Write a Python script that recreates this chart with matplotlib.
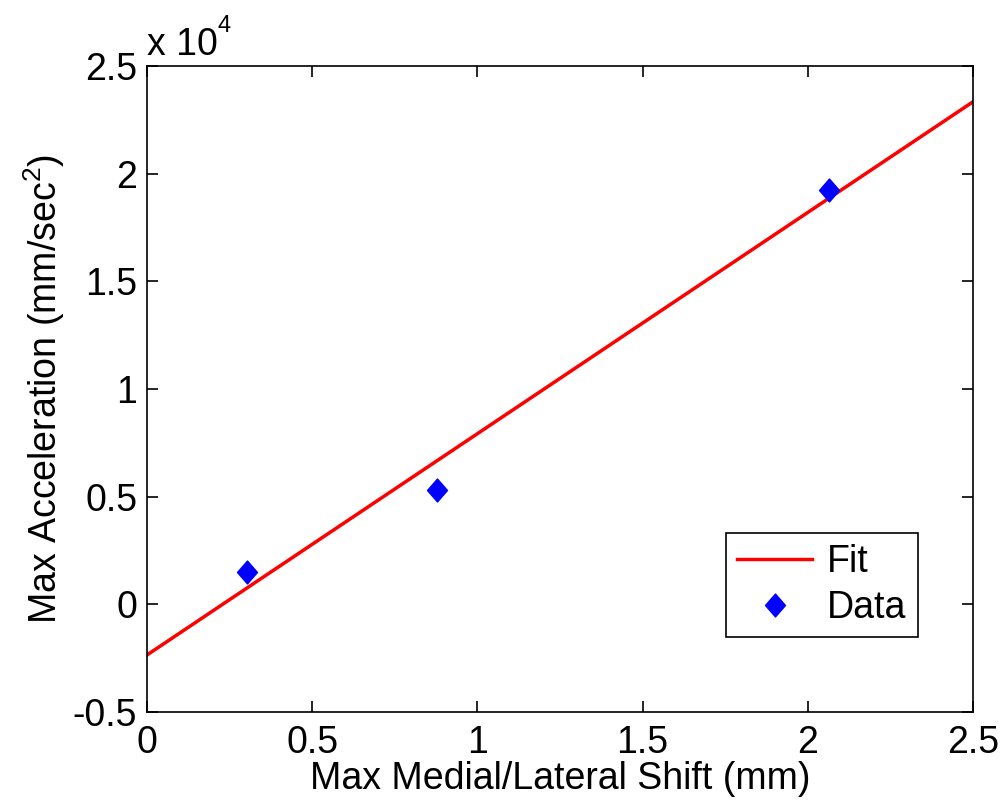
import matplotlib
matplotlib.use("Agg")
import matplotlib.pyplot as plt
from matplotlib.path import Path
from matplotlib.ticker import FuncFormatter

plt.rcParams['font.family'] = ['Liberation Sans', 'DejaVu Sans']
plt.rcParams['mathtext.fontset'] = 'custom'
plt.rcParams['mathtext.rm'] = 'Liberation Sans'

# data
data_x = [0.302, 0.878, 2.063]
data_y = [1480, 5300, 19240]
fit_x = [0.0, 2.5]
fit_y = [-2350, 23340]
x_ticks = [0, 0.5, 1, 1.5, 2, 2.5]
y_ticks = [-5000, 0, 5000, 10000, 15000, 20000, 25000]

FS = 27

# matlab-like diamond, a bit taller than wide
diamond = Path([(0, 1), (0.87, 0), (0, -1), (-0.87, 0), (0, 1)],
               [Path.MOVETO, Path.LINETO, Path.LINETO, Path.LINETO, Path.CLOSEPOLY])

fig = plt.figure(figsize=(10.05, 8.07), dpi=100)
ax = fig.add_axes([0.1463, 0.1177, 0.8219, 0.8005])

ax.plot(fit_x, fit_y, color='red', lw=2.5, label='Fit')
ax.plot(data_x, data_y, ls='none', marker=diamond, color='blue',
        markersize=16.5, label='Data')

ax.set_xlim(0, 2.5)
ax.set_ylim(-5000, 25000)
ax.set_xticks(x_ticks)
ax.set_yticks(y_ticks)
ax.xaxis.set_major_formatter(FuncFormatter(lambda v, p: '%g' % v))
ax.yaxis.set_major_formatter(FuncFormatter(lambda v, p: '%g' % (v / 1e4)))
ax.tick_params(direction='in', top=True, right=True, length=8, width=1.2,
               labelsize=FS)
ax.tick_params(axis='x', pad=9)
ax.tick_params(axis='y', pad=7)
for s in ax.spines.values():
    s.set_linewidth(1.2)

ax.set_xlabel('Max Medial/Lateral Shift (mm)', fontsize=FS, labelpad=0)
ax.set_ylabel('Max Acceleration (mm/sec$^2$)', fontsize=FS, labelpad=4)
ax.text(0.0, 1.005, 'x 10', transform=ax.transAxes, fontsize=FS,
        ha='left', va='bottom')
ax.text(0.085, 1.045, '4', transform=ax.transAxes, fontsize=17,
        ha='left', va='bottom')

leg = ax.legend(loc='lower right', bbox_to_anchor=(0.933, 0.116), fontsize=FS,
                fancybox=False, edgecolor='black', framealpha=1,
                handlelength=2.0, handletextpad=0.4, borderpad=0.3,
                labelspacing=0.25, borderaxespad=0)
leg.get_frame().set_linewidth(1.2)

fig.savefig('out.png', dpi=100)
